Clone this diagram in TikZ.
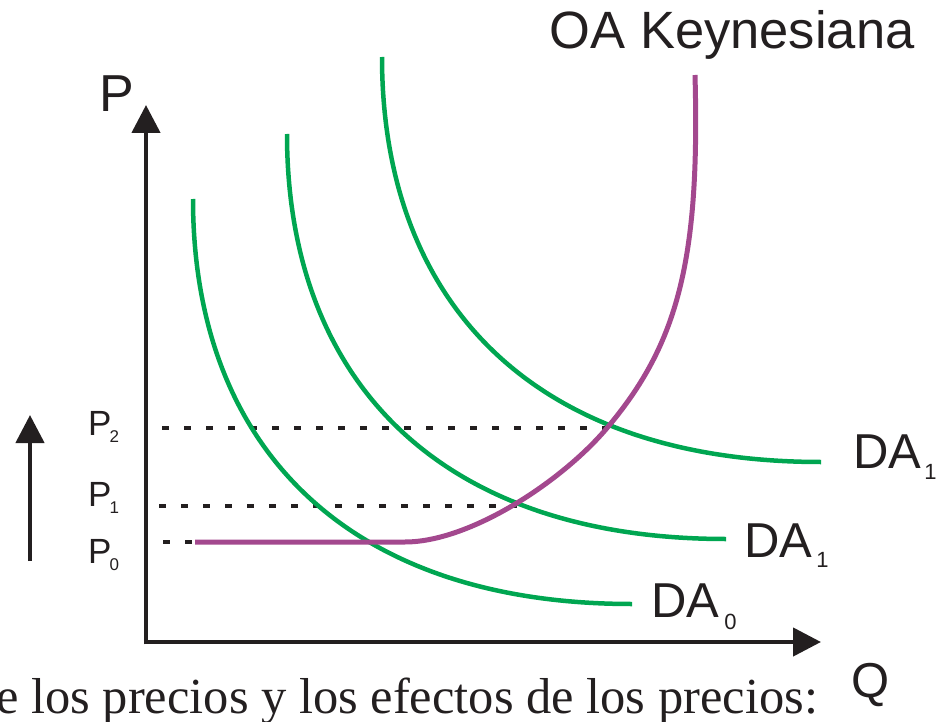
\documentclass[tikz,border=0pt]{standalone}
\usepackage{fontspec}
\setmainfont{Liberation Sans}
\newfontfamily\serifbody{Liberation Serif}
\usetikzlibrary{arrows.meta}
\definecolor{dagreen}{HTML}{00A651}
\definecolor{oapurple}{HTML}{A3488E}
\definecolor{ink}{HTML}{231F20}
\newcommand\fs[1]{\fontsize{#1}{#1}\selectfont}
\begin{document}
\begin{tikzpicture}[x=1pt,y=-1pt,
  axisline/.style={draw=ink,line width=4.5pt,-{Triangle[length=28pt,width=28pt]}},
  guide/.style={draw=ink,line width=3.5pt,dash pattern=on 7pt off 15pt},
  dacurve/.style={draw=dagreen,line width=4.5pt},
  oacurve/.style={draw=oapurple,line width=5pt},
  lbl/.style={inner sep=0pt,anchor=base west,text=ink}]
\useasboundingbox (0,0) rectangle (940,722);

% axes
\coordinate (ytip) at (146,105);
\coordinate (xtip) at (821,642);
\coordinate (ybot) at (146,644.25);
\coordinate (xleft) at (143.75,642);
\draw[axisline] (ybot) -- (ytip);
\draw[axisline] (xleft) -- (xtip);

% left arrow
\coordinate (ab) at (30,561);
\coordinate (at) at (30,415);
\draw[axisline] (ab) -- (at);

% guides
\coordinate (g2a) at (162,428); \coordinate (g2b) at (609,428);
\coordinate (g1a) at (159,506); \coordinate (g1b) at (517,506);
\coordinate (g0a) at (163,542); \coordinate (g0b) at (193,542);
\draw[guide] (g2a) -- (g2b);
\draw[guide] (g1a) -- (g1b);
\draw[guide] (g0a) -- (g0b);

% DA curves (same shape, shifted)
\foreach \dx/\dy in {0/0, 94/-65, 189/-142}{
  \begin{scope}[shift={(\dx,\dy)}]
  \draw[dacurve] (193,199) .. controls (193,443) and (343,604) .. (632,604);
  \end{scope}
}

% OA curve
\coordinate (oa0) at (195,542);
\coordinate (oa1) at (405,542);
\coordinate (oa2) at (607,428);
\coordinate (oa3) at (695,75);
\draw[oacurve] (oa0) -- (oa1)
  .. controls (470,542) and (561.9,481.5) .. (oa2)
  .. controls (678,344) and (700,260) .. (oa3);

% labels
\node[lbl] (oa) at (549.5,49) {\fs{52.5}OA Keynesiana};
\node[lbl] (pax) at (99,112) {\fs{52}P};
\node[lbl] (qax) at (851.5,697) {\fs{49}Q};
\node[lbl] (p2) at (88,435) {\fs{35}P\kern-2pt\raisebox{-7pt}{\fs{17}2}};
\node[lbl] (p1) at (88,506) {\fs{35}P\kern-2pt\raisebox{-7pt}{\fs{17}1}};
\node[lbl] (p0) at (88,563) {\fs{35}P\kern-2pt\raisebox{-7pt}{\fs{17}0}};
\node[lbl] (da2) at (853,468) {\fs{49}DA\kern3pt\raisebox{-11pt}{\fs{22}1}};
\node[lbl] (da1) at (744,557) {\fs{49}DA\kern4pt\raisebox{-10pt}{\fs{22}1}};
\node[lbl] (da0) at (651,617) {\fs{49}DA\kern5pt\raisebox{-12pt}{\fs{22}0}};
\node[lbl] (cap) at (-4,713) {\serifbody\fs{50.5}e los precios y los efectos de los precios:};
\end{tikzpicture}
\end{document}
